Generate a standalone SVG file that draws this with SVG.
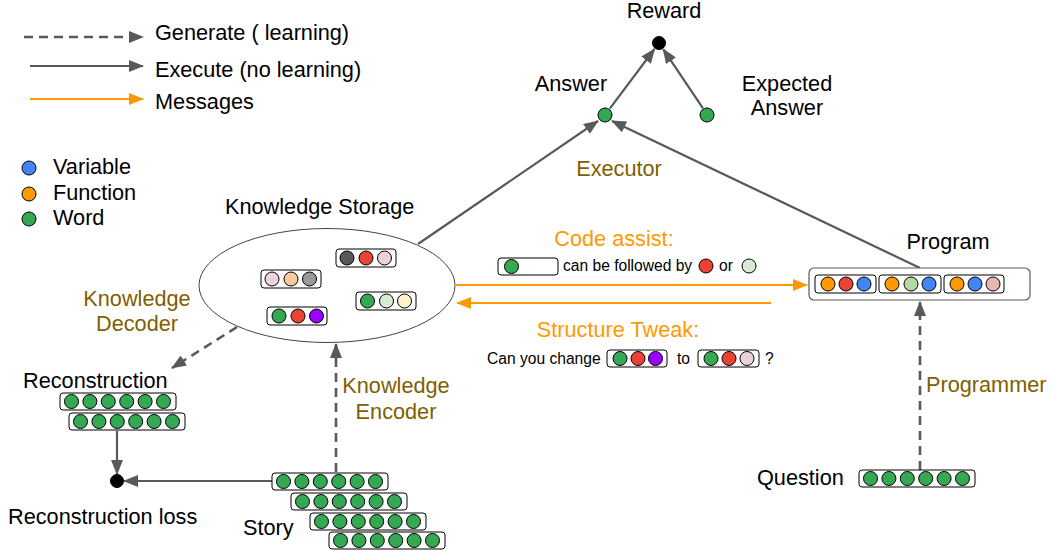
<svg xmlns="http://www.w3.org/2000/svg" xmlns:xlink="http://www.w3.org/1999/xlink" width="1053" height="550" viewBox="0 0 1053 550">
<style>
text{font-family:"Liberation Sans",Arial,sans-serif;font-size:21.7px;fill:#000}
.s{font-size:15.6px}
.ol{fill:#7f6000}
.or{fill:#ff9900}
.mid{text-anchor:middle}
.ln{stroke:#595959;stroke-width:2.2;fill:none}
.da{stroke-dasharray:9,6;stroke-width:2.6}
.om{stroke:#ff9900;stroke-width:2.2;fill:none}
.chip{fill:#fff;stroke:#000;stroke-width:1}
circle{stroke:#000;stroke-width:1}
.g{fill:#34a853}.r{fill:#ea4335}.b{fill:#4285f4}.o{fill:#ff9900}.p{fill:#9900ff}
.dg{fill:#595959}.pk{fill:#ead1dc}.pe{fill:#f9cb9c}.gy{fill:#999999}.lg{fill:#d9ead3}
.cr{fill:#fff2cc}.mg{fill:#b6d7a8}.rs{fill:#e6b8af}.k{fill:#000}
</style>
<defs>
<marker id="ag" viewBox="0 0 15 12" refX="14" refY="6" markerWidth="15" markerHeight="12" markerUnits="userSpaceOnUse" orient="auto"><path d="M0,0 L15,6 L0,12 z" fill="#595959"/></marker>
<marker id="ao" viewBox="0 0 15 12" refX="14" refY="6" markerWidth="15" markerHeight="12" markerUnits="userSpaceOnUse" orient="auto"><path d="M0,0 L15,6 L0,12 z" fill="#ff9900"/></marker>
<g id="row6">
<rect class="chip" x="0" y="0" width="116" height="17" rx="3"/>
<circle class="g" cx="11.5" cy="8.5" r="7"/><circle class="g" cx="29.9" cy="8.5" r="7"/><circle class="g" cx="48.3" cy="8.5" r="7"/>
<circle class="g" cx="66.7" cy="8.5" r="7"/><circle class="g" cx="85.1" cy="8.5" r="7"/><circle class="g" cx="103.5" cy="8.5" r="7"/>
</g>
</defs>

<g id="legend">
<path class="ln da" d="M24,37 H143" marker-end="url(#ag)"/>
<path class="ln" d="M30,66 H143" marker-end="url(#ag)"/>
<path class="om" d="M30,99 H143" marker-end="url(#ao)"/>
<text x="155" y="40">Generate ( learning)</text>
<text x="155" y="77">Execute (no learning)</text>
<text x="155" y="109">Messages</text>
<circle class="b" cx="29" cy="168" r="7"/><text x="53" y="174">Variable</text>
<circle class="o" cx="29" cy="194" r="7"/><text x="53" y="200">Function</text>
<circle class="g" cx="29" cy="219" r="7"/><text x="53" y="225">Word</text>
</g>

<g id="connectors">
<path class="ln" d="M609.8,108.6 L654.5,49" marker-end="url(#ag)"/>
<path class="ln" d="M703,108.3 L663.2,49.2" marker-end="url(#ag)"/>
<path class="ln" d="M418,244 L598,121" marker-end="url(#ag)"/>
<path class="ln" d="M920,268 L612,121" marker-end="url(#ag)"/>
<path class="ln da" d="M237,327 L172,368" marker-end="url(#ag)"/>
<path class="ln da" d="M336,472 V344" marker-end="url(#ag)"/>
<path class="ln da" d="M920,470 V302" marker-end="url(#ag)"/>
<path class="ln" d="M117,431 V474" marker-end="url(#ag)"/>
<path class="ln" d="M272,481 H124" marker-end="url(#ag)"/>
<path class="om" d="M456,285 H807" marker-end="url(#ao)"/>
<path class="om" d="M771,303 H457" marker-end="url(#ao)"/>
</g>

<g id="reward">
<circle class="k" cx="659" cy="43" r="6.5"/>
<text class="mid" x="664" y="18">Reward</text>
</g>
<g id="answer">
<circle class="g" cx="605" cy="115" r="7"/>
<text class="mid" x="571" y="91">Answer</text>
</g>
<g id="expected-answer">
<circle class="g" cx="707" cy="115" r="7"/>
<text class="mid" x="787" y="91">Expected</text>
<text class="mid" x="787" y="115">Answer</text>
</g>
<g id="executor-label">
<text class="mid ol" x="619" y="176">Executor</text>
</g>

<g id="knowledge-storage">
<text x="225" y="214">Knowledge Storage</text>
<ellipse cx="327" cy="285.5" rx="128" ry="57" fill="#fff" stroke="#444" stroke-width="1"/>
<rect class="chip" x="336" y="249" width="60" height="18" rx="3"/>
<circle class="dg" cx="347" cy="258" r="7"/><circle class="r" cx="366" cy="258" r="7"/><circle class="pk" cx="384.5" cy="258" r="7"/>
<rect class="chip" x="261" y="270" width="60" height="18" rx="3"/>
<circle class="pk" cx="272" cy="279" r="7"/><circle class="pe" cx="291" cy="279" r="7"/><circle class="gy" cx="309.5" cy="279" r="7"/>
<rect class="chip" x="356" y="292" width="60" height="18" rx="3"/>
<circle class="g" cx="367.5" cy="301" r="7"/><circle class="lg" cx="386.5" cy="301" r="7"/><circle class="cr" cx="404.5" cy="301" r="7"/>
<rect class="chip" x="267" y="307" width="60" height="18" rx="3"/>
<circle class="g" cx="279" cy="316" r="7"/><circle class="r" cx="298" cy="316" r="7"/><circle class="p" cx="316.5" cy="316" r="7"/>
</g>

<g id="program">
<text class="mid" x="948" y="249">Program</text>
<rect x="809" y="268" width="221" height="32" rx="5" fill="#fff" stroke="#595959" stroke-width="1.2"/>
<rect class="chip" x="815" y="275" width="61" height="18" rx="3"/>
<circle class="o" cx="828" cy="284" r="7"/><circle class="r" cx="846" cy="284" r="7"/><circle class="b" cx="864" cy="284" r="7"/>
<rect class="chip" x="879" y="275" width="62" height="18" rx="3"/>
<circle class="o" cx="892" cy="284" r="7"/><circle class="mg" cx="911" cy="284" r="7"/><circle class="b" cx="929" cy="284" r="7"/>
<rect class="chip" x="944" y="275" width="60" height="18" rx="3"/>
<circle class="o" cx="957" cy="284" r="7"/><circle class="b" cx="975" cy="284" r="7"/><circle class="rs" cx="993" cy="284" r="7"/>
</g>

<g id="code-assist">
<text class="mid or" x="614" y="246">Code assist:</text>
<rect class="chip" x="498" y="258" width="60" height="17" rx="3"/>
<circle class="g" cx="511.5" cy="266.5" r="7"/>
<text class="s" x="563" y="271">can be followed by</text>
<circle class="r" cx="706" cy="266" r="7"/>
<text class="s" x="719" y="271">or</text>
<circle class="lg" cx="749" cy="266" r="7"/>
</g>

<g id="structure-tweak">
<text class="mid or" x="618" y="337">Structure Tweak:</text>
<text class="s" x="487" y="364">Can you change</text>
<rect class="chip" x="607" y="350" width="60" height="17" rx="3"/>
<circle class="g" cx="620" cy="358.5" r="7"/><circle class="r" cx="638" cy="358.5" r="7"/><circle class="p" cx="655.5" cy="358.5" r="7"/>
<text class="s" x="677" y="364">to</text>
<rect class="chip" x="698" y="350" width="61" height="17" rx="3"/>
<circle class="g" cx="711" cy="358.5" r="7"/><circle class="r" cx="729" cy="358.5" r="7"/><circle class="pk" cx="747" cy="358.5" r="7"/>
<text class="s" x="765" y="364">?</text>
</g>

<g id="knowledge-decoder-label">
<text class="mid ol" x="137" y="306">Knowledge</text>
<text class="mid ol" x="137" y="331">Decoder</text>
</g>
<g id="knowledge-encoder-label">
<text class="mid ol" x="396" y="393">Knowledge</text>
<text class="mid ol" x="396" y="419">Encoder</text>
</g>
<g id="programmer-label">
<text class="ol" x="926" y="392">Programmer</text>
</g>

<g id="reconstruction">
<text x="23" y="388">Reconstruction</text>
<use xlink:href="#row6" x="60" y="393"/>
<use xlink:href="#row6" x="69" y="413"/>
</g>
<g id="reconstruction-loss">
<circle class="k" cx="117" cy="481" r="6.5"/>
<text x="8" y="524">Reconstruction loss</text>
</g>

<g id="story">
<use xlink:href="#row6" x="272" y="473"/>
<use xlink:href="#row6" x="291" y="493"/>
<use xlink:href="#row6" x="310" y="513"/>
<use xlink:href="#row6" x="329" y="532"/>
<text x="243" y="535">Story</text>
</g>

<g id="question">
<text x="757" y="485">Question</text>
<use xlink:href="#row6" x="859" y="470"/>
</g>
</svg>
